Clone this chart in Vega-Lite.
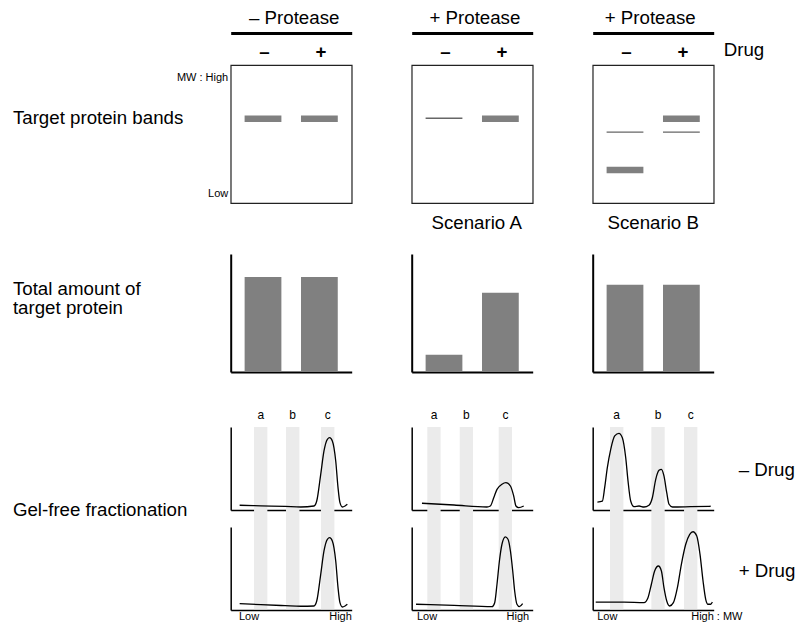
{
  "$schema": "https://vega.github.io/schema/vega-lite/v6.json",
  "background": "white",
  "padding": {"left": 11.7, "top": 7, "right": 0, "bottom": 0},
  "config": {
    "font": "Liberation Sans",
    "view": {"stroke": null},
    "text": {"color": "#000"},
    "axis": {"grid": false, "ticks": false, "labels": false, "domain": false, "domainColor": "#000", "labelColor": "#000", "titleColor": "#000", "titleFontWeight": "normal", "zindex": 1},
    "title": {"fontWeight": "normal", "color": "#000"}
  },
  "datasets": {
    "bands": [
      {"scenario": "none", "drug": "–", "mw": 61.1, "kind": "major"},
      {"scenario": "none", "drug": "+", "mw": 61.1, "kind": "major"},
      {"scenario": "A", "drug": "–", "mw": 61.4, "kind": "faint"},
      {"scenario": "A", "drug": "+", "mw": 61.1, "kind": "major"},
      {"scenario": "B", "drug": "–", "mw": 51.4, "kind": "faint"},
      {"scenario": "B", "drug": "–", "mw": 23.9, "kind": "major"},
      {"scenario": "B", "drug": "+", "mw": 61.1, "kind": "major"},
      {"scenario": "B", "drug": "+", "mw": 51.4, "kind": "faint"}
    ],
    "amounts": [
      {"scenario": "none", "drug": "–", "amount": 80.5},
      {"scenario": "none", "drug": "+", "amount": 80.5},
      {"scenario": "A", "drug": "–", "amount": 14.7},
      {"scenario": "A", "drug": "+", "amount": 67.2},
      {"scenario": "B", "drug": "–", "amount": 74.0},
      {"scenario": "B", "drug": "+", "amount": 74.0}
    ],
    "fractions": [
      {"scenario": "none", "fraction": "a", "lo": 19.3, "hi": 30.3},
      {"scenario": "none", "fraction": "b", "lo": 45.7, "hi": 56.8},
      {"scenario": "none", "fraction": "c", "lo": 74.6, "hi": 85.7},
      {"scenario": "A", "fraction": "a", "lo": 12.9, "hi": 23.9},
      {"scenario": "A", "fraction": "b", "lo": 39.7, "hi": 50.7},
      {"scenario": "A", "fraction": "c", "lo": 71.9, "hi": 82.9},
      {"scenario": "B", "fraction": "a", "lo": 14.3, "hi": 25.4},
      {"scenario": "B", "fraction": "b", "lo": 48.5, "hi": 59.5},
      {"scenario": "B", "fraction": "c", "lo": 75.5, "hi": 86.5}
    ],
    "profiles": [
      {"scenario": "none", "drug": "–", "position": 7.4, "signal": 5.7},
      {"scenario": "none", "drug": "–", "position": 25, "signal": 5.0},
      {"scenario": "none", "drug": "–", "position": 45, "signal": 4.3},
      {"scenario": "none", "drug": "–", "position": 57.9, "signal": 3.6},
      {"scenario": "none", "drug": "–", "position": 68.8, "signal": 4.8},
      {"scenario": "none", "drug": "–", "position": 71.1, "signal": 10.8},
      {"scenario": "none", "drug": "–", "position": 74.4, "signal": 43},
      {"scenario": "none", "drug": "–", "position": 77.1, "signal": 71.1},
      {"scenario": "none", "drug": "–", "position": 79.9, "signal": 85.2},
      {"scenario": "none", "drug": "–", "position": 81.8, "signal": 87.1},
      {"scenario": "none", "drug": "–", "position": 84, "signal": 83.1},
      {"scenario": "none", "drug": "–", "position": 86.8, "signal": 59},
      {"scenario": "none", "drug": "–", "position": 88.7, "signal": 26.9},
      {"scenario": "none", "drug": "–", "position": 90.3, "signal": 8.8},
      {"scenario": "none", "drug": "–", "position": 92.3, "signal": 3.6},
      {"scenario": "none", "drug": "–", "position": 94.5, "signal": 4.8},
      {"scenario": "none", "drug": "–", "position": 96.4, "signal": 6.9},
      {"scenario": "none", "drug": "+", "position": 7.4, "signal": 7.6},
      {"scenario": "none", "drug": "+", "position": 25, "signal": 6.4},
      {"scenario": "none", "drug": "+", "position": 45, "signal": 5.2},
      {"scenario": "none", "drug": "+", "position": 57.9, "signal": 4.5},
      {"scenario": "none", "drug": "+", "position": 68.8, "signal": 4.8},
      {"scenario": "none", "drug": "+", "position": 71.1, "signal": 10.8},
      {"scenario": "none", "drug": "+", "position": 74.4, "signal": 43},
      {"scenario": "none", "drug": "+", "position": 77.1, "signal": 71.1},
      {"scenario": "none", "drug": "+", "position": 79.9, "signal": 85.2},
      {"scenario": "none", "drug": "+", "position": 81.8, "signal": 87.1},
      {"scenario": "none", "drug": "+", "position": 84, "signal": 83.1},
      {"scenario": "none", "drug": "+", "position": 86.8, "signal": 59},
      {"scenario": "none", "drug": "+", "position": 88.7, "signal": 26.9},
      {"scenario": "none", "drug": "+", "position": 90.3, "signal": 8.8},
      {"scenario": "none", "drug": "+", "position": 92.3, "signal": 3.6},
      {"scenario": "none", "drug": "+", "position": 94.5, "signal": 4.8},
      {"scenario": "none", "drug": "+", "position": 96.4, "signal": 6.9},
      {"scenario": "A", "drug": "–", "position": 8.5, "signal": 8.1},
      {"scenario": "A", "drug": "–", "position": 35, "signal": 6.0},
      {"scenario": "A", "drug": "–", "position": 62.2, "signal": 3.6},
      {"scenario": "A", "drug": "–", "position": 65, "signal": 4.8},
      {"scenario": "A", "drug": "–", "position": 67.8, "signal": 14.8},
      {"scenario": "A", "drug": "–", "position": 70.5, "signal": 24.9},
      {"scenario": "A", "drug": "–", "position": 74.6, "signal": 31},
      {"scenario": "A", "drug": "–", "position": 77.9, "signal": 32.9},
      {"scenario": "A", "drug": "–", "position": 81.6, "signal": 28.9},
      {"scenario": "A", "drug": "–", "position": 84.3, "signal": 16.9},
      {"scenario": "A", "drug": "–", "position": 86.2, "signal": 4.8},
      {"scenario": "A", "drug": "–", "position": 88.4, "signal": 2.8},
      {"scenario": "A", "drug": "–", "position": 92.6, "signal": 4.8},
      {"scenario": "A", "drug": "+", "position": 3.6, "signal": 6.9},
      {"scenario": "A", "drug": "+", "position": 35, "signal": 5.5},
      {"scenario": "A", "drug": "+", "position": 66.4, "signal": 4.0},
      {"scenario": "A", "drug": "+", "position": 68.6, "signal": 8.8},
      {"scenario": "A", "drug": "+", "position": 70.5, "signal": 31},
      {"scenario": "A", "drug": "+", "position": 72.5, "signal": 59},
      {"scenario": "A", "drug": "+", "position": 74.6, "signal": 79.2},
      {"scenario": "A", "drug": "+", "position": 77.4, "signal": 88},
      {"scenario": "A", "drug": "+", "position": 79.6, "signal": 85.2},
      {"scenario": "A", "drug": "+", "position": 81.6, "signal": 71.1},
      {"scenario": "A", "drug": "+", "position": 83.5, "signal": 47},
      {"scenario": "A", "drug": "+", "position": 85.1, "signal": 22.9},
      {"scenario": "A", "drug": "+", "position": 87, "signal": 6.9},
      {"scenario": "A", "drug": "+", "position": 89, "signal": 4.0},
      {"scenario": "A", "drug": "+", "position": 91.7, "signal": 7.6},
      {"scenario": "B", "drug": "–", "position": 3.9, "signal": 9.6},
      {"scenario": "B", "drug": "–", "position": 8.0, "signal": 10.8},
      {"scenario": "B", "drug": "–", "position": 9.9, "signal": 26.9},
      {"scenario": "B", "drug": "–", "position": 12.1, "signal": 51},
      {"scenario": "B", "drug": "–", "position": 14.9, "signal": 73.1},
      {"scenario": "B", "drug": "–", "position": 18.2, "signal": 89.2},
      {"scenario": "B", "drug": "–", "position": 21.7, "signal": 92.4},
      {"scenario": "B", "drug": "–", "position": 24.5, "signal": 87.1},
      {"scenario": "B", "drug": "–", "position": 27.3, "signal": 63},
      {"scenario": "B", "drug": "–", "position": 29.2, "signal": 34.9},
      {"scenario": "B", "drug": "–", "position": 31.4, "signal": 10.8},
      {"scenario": "B", "drug": "–", "position": 34.1, "signal": 4.0},
      {"scenario": "B", "drug": "–", "position": 38.3, "signal": 4.8},
      {"scenario": "B", "drug": "–", "position": 42.4, "signal": 3.6},
      {"scenario": "B", "drug": "–", "position": 46.5, "signal": 5.7},
      {"scenario": "B", "drug": "–", "position": 49.3, "signal": 14.8},
      {"scenario": "B", "drug": "–", "position": 52.1, "signal": 37},
      {"scenario": "B", "drug": "–", "position": 54.8, "signal": 47.8},
      {"scenario": "B", "drug": "–", "position": 56.8, "signal": 49},
      {"scenario": "B", "drug": "–", "position": 58.9, "signal": 41},
      {"scenario": "B", "drug": "–", "position": 61.2, "signal": 20.8},
      {"scenario": "B", "drug": "–", "position": 63.1, "signal": 6.9},
      {"scenario": "B", "drug": "–", "position": 65.9, "signal": 3.6},
      {"scenario": "B", "drug": "–", "position": 81, "signal": 4.0},
      {"scenario": "B", "drug": "–", "position": 97.5, "signal": 4.5},
      {"scenario": "B", "drug": "+", "position": 2.5, "signal": 9.6},
      {"scenario": "B", "drug": "+", "position": 25.9, "signal": 9.6},
      {"scenario": "B", "drug": "+", "position": 42.4, "signal": 8.8},
      {"scenario": "B", "drug": "+", "position": 45.7, "signal": 14.8},
      {"scenario": "B", "drug": "+", "position": 48.5, "signal": 31},
      {"scenario": "B", "drug": "+", "position": 51.2, "signal": 47},
      {"scenario": "B", "drug": "+", "position": 54.3, "signal": 53},
      {"scenario": "B", "drug": "+", "position": 56.8, "signal": 47},
      {"scenario": "B", "drug": "+", "position": 58.9, "signal": 26.9},
      {"scenario": "B", "drug": "+", "position": 61.2, "signal": 10.8},
      {"scenario": "B", "drug": "+", "position": 63.6, "signal": 4.8},
      {"scenario": "B", "drug": "+", "position": 66.7, "signal": 8.8},
      {"scenario": "B", "drug": "+", "position": 70.0, "signal": 26.9},
      {"scenario": "B", "drug": "+", "position": 73.3, "signal": 55.1},
      {"scenario": "B", "drug": "+", "position": 76.9, "signal": 79.2},
      {"scenario": "B", "drug": "+", "position": 80.2, "signal": 91.2},
      {"scenario": "B", "drug": "+", "position": 82.9, "signal": 94.3},
      {"scenario": "B", "drug": "+", "position": 86.0, "signal": 89.2},
      {"scenario": "B", "drug": "+", "position": 88.7, "signal": 67.1},
      {"scenario": "B", "drug": "+", "position": 91.2, "signal": 34.9},
      {"scenario": "B", "drug": "+", "position": 93.4, "signal": 12.9},
      {"scenario": "B", "drug": "+", "position": 95.3, "signal": 6.9},
      {"scenario": "B", "drug": "+", "position": 97.5, "signal": 6.9},
      {"scenario": "B", "drug": "+", "position": 98.9, "signal": 9.6}
    ]
  },
  "columns": 3,
  "align": "each",
  "bounds": "flush",
  "spacing": {"row": 17, "column": 60},
  "concat": [
    {
      "width": 121, "height": 138,
      "view": {"stroke": "#222", "strokeWidth": 1.2},
      "layer": [
        {
          "data": {"name": "bands"},
          "transform": [{"filter": "datum.scenario === 'none' && datum.kind === 'major'"}],
          "mark": {"type": "tick", "orient": "horizontal", "size": 36.8, "thickness": 6.5, "color": "#808080", "opacity": 1},
          "encoding": {
            "x": {"field": "drug", "type": "nominal", "scale": {"domain": ["–", "+"], "paddingInner": 0.348, "paddingOuter": 0.247},
              "axis": {"orient": "top", "offset": 32, "domain": true, "domainWidth": 3, "labels": true, "labelAngle": 0, "labelFontSize": 18.7, "labelFontWeight": "bold", "labelPadding": -18, "labelBaseline": "middle", "labelOffset": 1.5, "title": "– Protease", "titleFontSize": 18.7, "titleY": -10, "titleX": 63, "titleBaseline": "alphabetic"}},
            "y": {"field": "mw", "type": "quantitative", "scale": {"domain": [0, 100], "nice": false},
              "axis": {"values": [90.8, 6.7], "labels": true, "labelExpr": "datum.value > 50 ? 'MW : High' : 'Low'", "labelFontSize": 11, "labelPadding": 3, "labelBaseline": "middle", "title": "Target protein bands", "titleFontSize": 18.7, "titleAngle": 0, "titleAlign": "left", "titleBaseline": "alphabetic", "titleX": -218.3, "titleY": 58}}
          }
        },
        {
          "data": {"name": "bands"},
          "transform": [{"filter": "datum.scenario === 'none' && datum.kind === 'faint'"}],
          "mark": {"type": "tick", "orient": "horizontal", "size": 36.8, "thickness": 1.3, "color": "#666", "opacity": 1},
          "encoding": {
            "x": {"field": "drug", "type": "nominal", "scale": {"domain": ["–", "+"], "paddingInner": 0.348, "paddingOuter": 0.247},
              "axis": {"orient": "top", "offset": 32, "domain": true, "domainWidth": 3, "labels": true, "labelAngle": 0, "labelFontSize": 18.7, "labelFontWeight": "bold", "labelPadding": -18, "labelBaseline": "middle", "labelOffset": 1.5, "title": "– Protease", "titleFontSize": 18.7, "titleY": -10, "titleX": 63, "titleBaseline": "alphabetic"}},
            "y": {"field": "mw", "type": "quantitative", "scale": {"domain": [0, 100], "nice": false},
              "axis": {"values": [90.8, 6.7], "labels": true, "labelExpr": "datum.value > 50 ? 'MW : High' : 'Low'", "labelFontSize": 11, "labelPadding": 3, "labelBaseline": "middle", "title": "Target protein bands", "titleFontSize": 18.7, "titleAngle": 0, "titleAlign": "left", "titleBaseline": "alphabetic", "titleX": -218.3, "titleY": 58}}
          }
        }
      ]
    },
    {
      "width": 121, "height": 138,
      "view": {"stroke": "#222", "strokeWidth": 1.2},
      "layer": [
        {
          "data": {"name": "bands"},
          "transform": [{"filter": "datum.scenario === 'A' && datum.kind === 'major'"}],
          "mark": {"type": "tick", "orient": "horizontal", "size": 36.8, "thickness": 6.5, "color": "#808080", "opacity": 1},
          "encoding": {
            "x": {"field": "drug", "type": "nominal", "scale": {"domain": ["–", "+"], "paddingInner": 0.348, "paddingOuter": 0.247},
              "axis": {"orient": "top", "offset": 32, "domain": true, "domainWidth": 3, "labels": true, "labelAngle": 0, "labelFontSize": 18.7, "labelFontWeight": "bold", "labelPadding": -18, "labelBaseline": "middle", "labelOffset": 1.5, "title": "+ Protease", "titleFontSize": 18.7, "titleY": -10, "titleX": 62.7, "titleBaseline": "alphabetic"}},
            "y": {"field": "mw", "type": "quantitative", "scale": {"domain": [0, 100], "nice": false}, "axis": {"title": null}}
          }
        },
        {
          "data": {"name": "bands"},
          "transform": [{"filter": "datum.scenario === 'A' && datum.kind === 'faint'"}],
          "mark": {"type": "tick", "orient": "horizontal", "size": 36.8, "thickness": 1.3, "color": "#666", "opacity": 1},
          "encoding": {
            "x": {"field": "drug", "type": "nominal", "scale": {"domain": ["–", "+"], "paddingInner": 0.348, "paddingOuter": 0.247},
              "axis": {"orient": "top", "offset": 32, "domain": true, "domainWidth": 3, "labels": true, "labelAngle": 0, "labelFontSize": 18.7, "labelFontWeight": "bold", "labelPadding": -18, "labelBaseline": "middle", "labelOffset": 1.5, "title": "+ Protease", "titleFontSize": 18.7, "titleY": -10, "titleX": 62.7, "titleBaseline": "alphabetic"}},
            "y": {"field": "mw", "type": "quantitative", "scale": {"domain": [0, 100], "nice": false}, "axis": {"title": null}}
          }
        }
      ]
    },
    {
      "width": 121, "height": 138,
      "view": {"stroke": "#222", "strokeWidth": 1.2},
      "layer": [
        {
          "data": {"name": "bands"},
          "transform": [{"filter": "datum.scenario === 'B' && datum.kind === 'major'"}],
          "mark": {"type": "tick", "orient": "horizontal", "size": 36.8, "thickness": 6.5, "color": "#808080", "opacity": 1},
          "encoding": {
            "x": {"field": "drug", "type": "nominal", "scale": {"domain": ["–", "+"], "paddingInner": 0.348, "paddingOuter": 0.247},
              "axis": {"orient": "top", "offset": 32, "domain": true, "domainWidth": 3, "labels": true, "labelAngle": 0, "labelFontSize": 18.7, "labelFontWeight": "bold", "labelPadding": -18, "labelBaseline": "middle", "labelOffset": 1.5, "title": "+ Protease", "titleFontSize": 18.7, "titleY": -10, "titleX": 57, "titleBaseline": "alphabetic"}},
            "y": {"field": "mw", "type": "quantitative", "scale": {"domain": [0, 100], "nice": false}, "axis": {"title": null}}
          }
        },
        {
          "data": {"name": "bands"},
          "transform": [{"filter": "datum.scenario === 'B' && datum.kind === 'faint'"}],
          "mark": {"type": "tick", "orient": "horizontal", "size": 36.8, "thickness": 1.3, "color": "#666", "opacity": 1},
          "encoding": {
            "x": {"field": "drug", "type": "nominal", "scale": {"domain": ["–", "+"], "paddingInner": 0.348, "paddingOuter": 0.247},
              "axis": {"orient": "top", "offset": 32, "domain": true, "domainWidth": 3, "labels": true, "labelAngle": 0, "labelFontSize": 18.7, "labelFontWeight": "bold", "labelPadding": -18, "labelBaseline": "middle", "labelOffset": 1.5, "title": "+ Protease", "titleFontSize": 18.7, "titleY": -10, "titleX": 57, "titleBaseline": "alphabetic"}},
            "y": {"field": "mw", "type": "quantitative", "scale": {"domain": [0, 100], "nice": false}, "axis": {"title": null}}
          }
        },
        {
          "data": {"values": [{"label": "Drug"}]},
          "mark": {"type": "text", "color": "#000", "fontSize": 18.7, "align": "left", "baseline": "middle", "dx": 10},
          "encoding": {"x": {"value": "width"}, "y": {"value": -14.6}, "text": {"field": "label"}}
        }
      ]
    },
    {
      "width": 121, "height": 152,
      "data": {"name": "amounts"},
      "transform": [{"filter": "datum.scenario === 'none'"}],
      "mark": {"type": "bar", "color": "#808080"},
      "encoding": {
        "x": {"field": "drug", "type": "nominal", "scale": {"domain": ["–", "+"], "paddingInner": 0.348, "paddingOuter": 0.247}, "axis": {"domain": true, "domainWidth": 2, "title": null}},
        "y": {"field": "amount", "type": "quantitative", "scale": {"domain": [0, 100], "nice": false, "range": [152, 34]},
          "axis": {"domain": true, "domainWidth": 2, "title": ["Total amount of", "target protein"], "titleFontSize": 18.7, "titleLineHeight": 19.5, "titleAngle": 0, "titleAlign": "left", "titleBaseline": "alphabetic", "titleX": -218.3, "titleY": 74.5}}
      }
    },
    {
      "width": 121, "height": 152,
      "title": {"text": "Scenario A", "fontSize": 18.7, "offset": 0, "baseline": "alphabetic", "dx": 4.5, "dy": 28},
      "data": {"name": "amounts"},
      "transform": [{"filter": "datum.scenario === 'A'"}],
      "mark": {"type": "bar", "color": "#808080"},
      "encoding": {
        "x": {"field": "drug", "type": "nominal", "scale": {"domain": ["–", "+"], "paddingInner": 0.348, "paddingOuter": 0.247}, "axis": {"domain": true, "domainWidth": 2, "title": null}},
        "y": {"field": "amount", "type": "quantitative", "scale": {"domain": [0, 100], "nice": false, "range": [152, 34]}, "axis": {"domain": true, "domainWidth": 2, "title": null}}
      }
    },
    {
      "width": 121, "height": 152,
      "title": {"text": "Scenario B", "fontSize": 18.7, "offset": 0, "baseline": "alphabetic", "dy": 28},
      "data": {"name": "amounts"},
      "transform": [{"filter": "datum.scenario === 'B'"}],
      "mark": {"type": "bar", "color": "#808080"},
      "encoding": {
        "x": {"field": "drug", "type": "nominal", "scale": {"domain": ["–", "+"], "paddingInner": 0.348, "paddingOuter": 0.247}, "axis": {"domain": true, "domainWidth": 2, "title": null}},
        "y": {"field": "amount", "type": "quantitative", "scale": {"domain": [0, 100], "nice": false, "range": [152, 34]}, "axis": {"domain": true, "domainWidth": 2, "title": null}}
      }
    },
    {
      "width": 121, "height": 121,
      "layer": [
        {
          "data": {"name": "fractions"},
          "transform": [{"filter": "datum.scenario === 'none'"}],
          "mark": {"type": "rect", "color": "#ebebeb"},
          "encoding": {
            "x": {"field": "lo", "type": "quantitative", "scale": {"domain": [0, 100], "nice": false, "zero": false}, "axis": {"domain": true, "domainWidth": 1.5, "title": null}},
            "x2": {"field": "hi"},
            "y": {"datum": 100, "type": "quantitative", "scale": {"domain": [0, 100], "nice": false, "range": [121, 38]},
              "axis": {"domain": true, "domainWidth": 1.5, "title": "Gel-free fractionation", "titleFontSize": 18.7, "titleAngle": 0, "titleAlign": "left", "titleBaseline": "alphabetic", "titleX": -218.3, "titleY": 127}},
            "y2": {"datum": -20.5}
          }
        },
        {
          "data": {"name": "fractions"},
          "transform": [{"filter": "datum.scenario === 'none'"}],
          "mark": {"type": "text", "color": "#000", "fontSize": 12, "baseline": "middle", "align": "center", "dx": 6.7},
          "encoding": {
            "x": {"field": "lo", "type": "quantitative", "scale": {"domain": [0, 100], "nice": false, "zero": false}, "axis": {"domain": true, "domainWidth": 1.5, "title": null}},
            "y": {"value": 26},
            "text": {"field": "fraction"}
          }
        },
        {
          "data": {"name": "profiles"},
          "transform": [{"filter": "datum.scenario === 'none' && datum.drug === '–'"}],
          "mark": {"type": "line", "color": "#000", "strokeWidth": 1.3, "interpolate": "monotone"},
          "encoding": {
            "x": {"field": "position", "type": "quantitative", "scale": {"domain": [0, 100], "nice": false, "zero": false}, "axis": {"domain": true, "domainWidth": 1.5, "title": null}},
            "y": {"field": "signal", "type": "quantitative", "scale": {"domain": [0, 100], "nice": false, "range": [121, 38]},
              "axis": {"domain": true, "domainWidth": 1.5, "title": "Gel-free fractionation", "titleFontSize": 18.7, "titleAngle": 0, "titleAlign": "left", "titleBaseline": "alphabetic", "titleX": -218.3, "titleY": 127}}
          }
        }
      ]
    },
    {
      "width": 121, "height": 121,
      "layer": [
        {
          "data": {"name": "fractions"},
          "transform": [{"filter": "datum.scenario === 'A'"}],
          "mark": {"type": "rect", "color": "#ebebeb"},
          "encoding": {
            "x": {"field": "lo", "type": "quantitative", "scale": {"domain": [0, 100], "nice": false, "zero": false}, "axis": {"domain": true, "domainWidth": 1.5, "title": null}},
            "x2": {"field": "hi"},
            "y": {"datum": 100, "type": "quantitative", "scale": {"domain": [0, 100], "nice": false, "range": [121, 38]}, "axis": {"domain": true, "domainWidth": 1.5, "title": null}},
            "y2": {"datum": -20.5}
          }
        },
        {
          "data": {"name": "fractions"},
          "transform": [{"filter": "datum.scenario === 'A'"}],
          "mark": {"type": "text", "color": "#000", "fontSize": 12, "baseline": "middle", "align": "center", "dx": 6.7},
          "encoding": {
            "x": {"field": "lo", "type": "quantitative", "scale": {"domain": [0, 100], "nice": false, "zero": false}, "axis": {"domain": true, "domainWidth": 1.5, "title": null}},
            "y": {"value": 26},
            "text": {"field": "fraction"}
          }
        },
        {
          "data": {"name": "profiles"},
          "transform": [{"filter": "datum.scenario === 'A' && datum.drug === '–'"}],
          "mark": {"type": "line", "color": "#000", "strokeWidth": 1.3, "interpolate": "monotone"},
          "encoding": {
            "x": {"field": "position", "type": "quantitative", "scale": {"domain": [0, 100], "nice": false, "zero": false}, "axis": {"domain": true, "domainWidth": 1.5, "title": null}},
            "y": {"field": "signal", "type": "quantitative", "scale": {"domain": [0, 100], "nice": false, "range": [121, 38]}, "axis": {"domain": true, "domainWidth": 1.5, "title": null}}
          }
        }
      ]
    },
    {
      "width": 121, "height": 121,
      "layer": [
        {
          "data": {"name": "fractions"},
          "transform": [{"filter": "datum.scenario === 'B'"}],
          "mark": {"type": "rect", "color": "#ebebeb"},
          "encoding": {
            "x": {"field": "lo", "type": "quantitative", "scale": {"domain": [0, 100], "nice": false, "zero": false}, "axis": {"domain": true, "domainWidth": 1.5, "title": null}},
            "x2": {"field": "hi"},
            "y": {"datum": 100, "type": "quantitative", "scale": {"domain": [0, 100], "nice": false, "range": [121, 38]}, "axis": {"domain": true, "domainWidth": 1.5, "title": null}},
            "y2": {"datum": -20.5}
          }
        },
        {
          "data": {"name": "fractions"},
          "transform": [{"filter": "datum.scenario === 'B'"}],
          "mark": {"type": "text", "color": "#000", "fontSize": 12, "baseline": "middle", "align": "center", "dx": 6.7},
          "encoding": {
            "x": {"field": "lo", "type": "quantitative", "scale": {"domain": [0, 100], "nice": false, "zero": false}, "axis": {"domain": true, "domainWidth": 1.5, "title": null}},
            "y": {"value": 26},
            "text": {"field": "fraction"}
          }
        },
        {
          "data": {"name": "profiles"},
          "transform": [{"filter": "datum.scenario === 'B' && datum.drug === '–'"}],
          "mark": {"type": "line", "color": "#000", "strokeWidth": 1.3, "interpolate": "monotone"},
          "encoding": {
            "x": {"field": "position", "type": "quantitative", "scale": {"domain": [0, 100], "nice": false, "zero": false}, "axis": {"domain": true, "domainWidth": 1.5, "title": null}},
            "y": {"field": "signal", "type": "quantitative", "scale": {"domain": [0, 100], "nice": false, "range": [121, 38]}, "axis": {"domain": true, "domainWidth": 1.5, "title": null}}
          }
        },
        {
          "data": {"values": [{"label": "– Drug", "level": 50}]},
          "mark": {"type": "text", "color": "#000", "fontSize": 18.7, "align": "left", "baseline": "middle", "dx": 25, "dy": 1.5},
          "encoding": {
            "x": {"value": "width"},
            "y": {"field": "level", "type": "quantitative", "scale": {"domain": [0, 100], "nice": false, "range": [121, 38]}, "axis": {"domain": true, "domainWidth": 1.5, "title": null}},
            "text": {"field": "label"}
          }
        }
      ]
    },
    {
      "width": 121, "height": 83,
      "layer": [
        {
          "data": {"name": "fractions"},
          "transform": [{"filter": "datum.scenario === 'none'"}],
          "mark": {"type": "rect", "color": "#ebebeb"},
          "encoding": {
            "x": {"field": "lo", "type": "quantitative", "scale": {"domain": [0, 100], "nice": false, "zero": false},
              "axis": {"domain": true, "domainWidth": 1.5, "title": null, "values": [6.4, 99.7], "labels": true, "labelColor": "#000", "labelExpr": "datum.value < 50 ? 'Low' : 'High'", "labelAlign": {"condition": {"test": "datum.value < 50", "value": "left"}, "value": "right"}, "labelFontSize": 11, "labelPadding": 1, "labelBaseline": "top"}},
            "x2": {"field": "hi"},
            "y": {"datum": 100, "type": "quantitative", "scale": {"domain": [0, 100], "nice": false}, "axis": {"domain": true, "domainWidth": 1.5, "title": null}},
            "y2": {"datum": 1}
          }
        },
        {
          "data": {"name": "profiles"},
          "transform": [{"filter": "datum.scenario === 'none' && datum.drug === '+'"}],
          "mark": {"type": "line", "color": "#000", "strokeWidth": 1.3, "interpolate": "monotone"},
          "encoding": {
            "x": {"field": "position", "type": "quantitative", "scale": {"domain": [0, 100], "nice": false, "zero": false},
              "axis": {"domain": true, "domainWidth": 1.5, "title": null, "values": [6.4, 99.7], "labels": true, "labelColor": "#000", "labelExpr": "datum.value < 50 ? 'Low' : 'High'", "labelAlign": {"condition": {"test": "datum.value < 50", "value": "left"}, "value": "right"}, "labelFontSize": 11, "labelPadding": 1, "labelBaseline": "top"}},
            "y": {"field": "signal", "type": "quantitative", "scale": {"domain": [0, 100], "nice": false}, "axis": {"domain": true, "domainWidth": 1.5, "title": null}}
          }
        }
      ]
    },
    {
      "width": 121, "height": 83,
      "layer": [
        {
          "data": {"name": "fractions"},
          "transform": [{"filter": "datum.scenario === 'A'"}],
          "mark": {"type": "rect", "color": "#ebebeb"},
          "encoding": {
            "x": {"field": "lo", "type": "quantitative", "scale": {"domain": [0, 100], "nice": false, "zero": false},
              "axis": {"domain": true, "domainWidth": 1.5, "title": null, "values": [3.9, 96.7], "labels": true, "labelColor": "#000", "labelExpr": "datum.value < 50 ? 'Low' : 'High'", "labelAlign": {"condition": {"test": "datum.value < 50", "value": "left"}, "value": "right"}, "labelFontSize": 11, "labelPadding": 1, "labelBaseline": "top"}},
            "x2": {"field": "hi"},
            "y": {"datum": 100, "type": "quantitative", "scale": {"domain": [0, 100], "nice": false}, "axis": {"domain": true, "domainWidth": 1.5, "title": null}},
            "y2": {"datum": 1}
          }
        },
        {
          "data": {"name": "profiles"},
          "transform": [{"filter": "datum.scenario === 'A' && datum.drug === '+'"}],
          "mark": {"type": "line", "color": "#000", "strokeWidth": 1.3, "interpolate": "monotone"},
          "encoding": {
            "x": {"field": "position", "type": "quantitative", "scale": {"domain": [0, 100], "nice": false, "zero": false},
              "axis": {"domain": true, "domainWidth": 1.5, "title": null, "values": [3.9, 96.7], "labels": true, "labelColor": "#000", "labelExpr": "datum.value < 50 ? 'Low' : 'High'", "labelAlign": {"condition": {"test": "datum.value < 50", "value": "left"}, "value": "right"}, "labelFontSize": 11, "labelPadding": 1, "labelBaseline": "top"}},
            "y": {"field": "signal", "type": "quantitative", "scale": {"domain": [0, 100], "nice": false}, "axis": {"domain": true, "domainWidth": 1.5, "title": null}}
          }
        }
      ]
    },
    {
      "width": 121, "height": 83,
      "layer": [
        {
          "data": {"name": "fractions"},
          "transform": [{"filter": "datum.scenario === 'B'"}],
          "mark": {"type": "rect", "color": "#ebebeb"},
          "encoding": {
            "x": {"field": "lo", "type": "quantitative", "scale": {"domain": [0, 100], "nice": false, "zero": false},
              "axis": {"domain": true, "domainWidth": 1.5, "title": null, "values": [3.3, 81.0], "labels": true, "labelColor": "#000", "labelExpr": "datum.value < 50 ? 'Low' : 'High : MW'", "labelAlign": "left", "labelFontSize": 11, "labelPadding": 1, "labelBaseline": "top"}},
            "x2": {"field": "hi"},
            "y": {"datum": 100, "type": "quantitative", "scale": {"domain": [0, 100], "nice": false}, "axis": {"domain": true, "domainWidth": 1.5, "title": null}},
            "y2": {"datum": 1}
          }
        },
        {
          "data": {"name": "profiles"},
          "transform": [{"filter": "datum.scenario === 'B' && datum.drug === '+'"}],
          "mark": {"type": "line", "color": "#000", "strokeWidth": 1.3, "interpolate": "monotone"},
          "encoding": {
            "x": {"field": "position", "type": "quantitative", "scale": {"domain": [0, 100], "nice": false, "zero": false},
              "axis": {"domain": true, "domainWidth": 1.5, "title": null, "values": [3.3, 81.0], "labels": true, "labelColor": "#000", "labelExpr": "datum.value < 50 ? 'Low' : 'High : MW'", "labelAlign": "left", "labelFontSize": 11, "labelPadding": 1, "labelBaseline": "top"}},
            "y": {"field": "signal", "type": "quantitative", "scale": {"domain": [0, 100], "nice": false}, "axis": {"domain": true, "domainWidth": 1.5, "title": null}}
          }
        },
        {
          "data": {"values": [{"label": "+ Drug", "level": 50}]},
          "mark": {"type": "text", "color": "#000", "fontSize": 18.7, "align": "left", "baseline": "middle", "dx": 25, "dy": 2.5},
          "encoding": {
            "x": {"value": "width"},
            "y": {"field": "level", "type": "quantitative", "scale": {"domain": [0, 100], "nice": false}, "axis": {"domain": true, "domainWidth": 1.5, "title": null}},
            "text": {"field": "label"}
          }
        }
      ]
    }
  ]
}
